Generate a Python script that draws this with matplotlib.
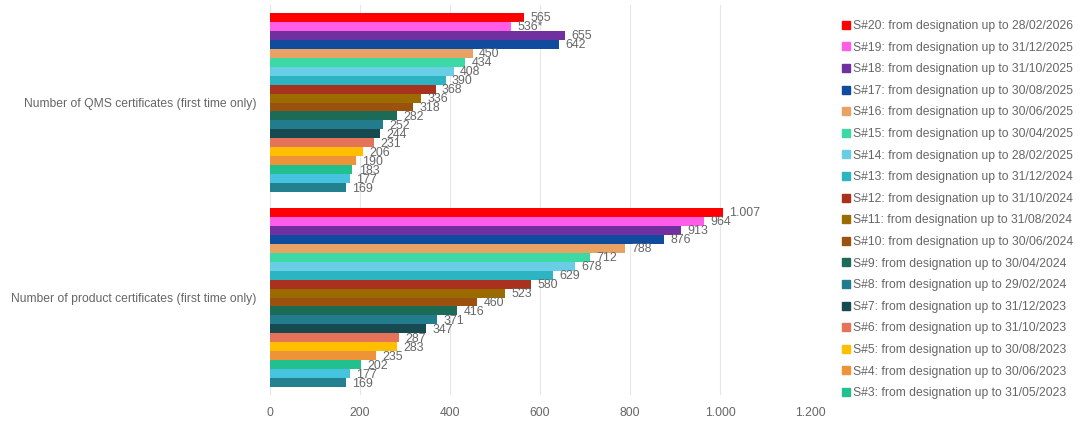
import matplotlib
matplotlib.use("Agg")
import matplotlib.pyplot as plt
from matplotlib.lines import Line2D
import numpy as np

plt.rcParams['font.family'] = ['Liberation Sans', 'DejaVu Sans']

categories = ["Number of QMS certificates (first time only)",
              "Number of product certificates (first time only)"]

series_names = [
    "S#20: from designation up to 28/02/2026",
    "S#19: from designation up to 31/12/2025",
    "S#18: from designation up to 31/10/2025",
    "S#17: from designation up to 30/08/2025",
    "S#16: from designation up to 30/06/2025",
    "S#15: from designation up to 30/04/2025",
    "S#14: from designation up to 28/02/2025",
    "S#13: from designation up to 31/12/2024",
    "S#12: from designation up to 31/10/2024",
    "S#11: from designation up to 31/08/2024",
    "S#10: from designation up to 30/06/2024",
    "S#9: from designation up to 30/04/2024",
    "S#8: from designation up to 29/02/2024",
    "S#7: from designation up to 31/12/2023",
    "S#6: from designation up to 31/10/2023",
    "S#5: from designation up to 30/08/2023",
    "S#4: from designation up to 30/06/2023",
    "S#3: from designation up to 31/05/2023",
    "S#2",
    "S#1",
]

qms = [565, 536, 655, 642, 450, 434, 408, 390, 368, 336, 318, 282, 252, 244, 231, 206, 190, 183, 177, 169]
product = [1007, 964, 913, 876, 788, 712, 678, 629, 580, 523, 460, 416, 371, 347, 287, 283, 235, 202, 177, 169]
qms_labels = ["565", "536*", "655", "642", "450", "434", "408", "390", "368", "336", "318", "282",
              "252", "244", "231", "206", "190", "183", "177", "169"]
product_labels = ["1.007", "964", "913", "876", "788", "712", "678", "629", "580", "523", "460", "416",
                  "371", "347", "287", "283", "235", "202", "177", "169"]

colors = ['#FF0000', '#FF5CE8', '#7030A0', '#0F4C9E', '#E8A264', '#3DD9A4', '#6ACDE6', '#2CB4C2',
          '#A8321E', '#9C6B00', '#9A520E', '#1B6B57', '#227C8E', '#174A50', '#E5735A', '#FFBF00',
          '#EE9338', '#22C08E', '#45C3DF', '#23808F']

n_legend = 18

fig = plt.figure(figsize=(10.8, 4.25), dpi=100)
ax = fig.add_axes([270/1080, 1-395/425, 540/1080, 390/425])

n = len(series_names)
group_w = 0.92
bh = group_w / n
cat_y = np.arange(len(categories))
gray = '#666666'

for j in range(n):
    ys = cat_y - group_w/2 + (j + 0.5)*bh
    vals = [qms[j], product[j]]
    labs = [qms_labels[j], product_labels[j]]
    ax.barh(ys, vals, height=bh, color=colors[j], linewidth=0)
    for y, v, l in zip(ys, vals, labs):
        ax.text(v + 14, y + 0.006, l, va='center', ha='left', fontsize=8.9, color=gray)

ax.set_xlim(0, 1200)
ax.set_ylim(1.5, -0.5)
ax.set_xticks(range(0, 1201, 200))
ax.set_xticklabels(["0", "200", "400", "600", "800", "1.000", "1.200"])
ax.set_yticks(cat_y)
ax.set_yticklabels(categories)
ax.tick_params(axis='both', length=0, colors=gray, labelsize=8.7)
ax.tick_params(axis='x', pad=9)
ax.tick_params(axis='y', pad=10)
for s in ax.spines.values():
    s.set_visible(False)
ax.grid(axis='x', color='#E6E6E6', linewidth=0.8)
ax.set_axisbelow(True)

handles = [Line2D([], [], marker='s', linestyle='none', markersize=5.5, color=colors[j])
           for j in range(n_legend)]
fig.legend(handles, series_names[:n_legend], loc='upper left', bbox_to_anchor=(843/1080, 1-20/425),
           frameon=False, fontsize=8.7, labelcolor=gray, handlelength=0.5, handletextpad=0.35,
           labelspacing=0.795, borderpad=0, borderaxespad=0)

fig.savefig("out.png", dpi=100)
